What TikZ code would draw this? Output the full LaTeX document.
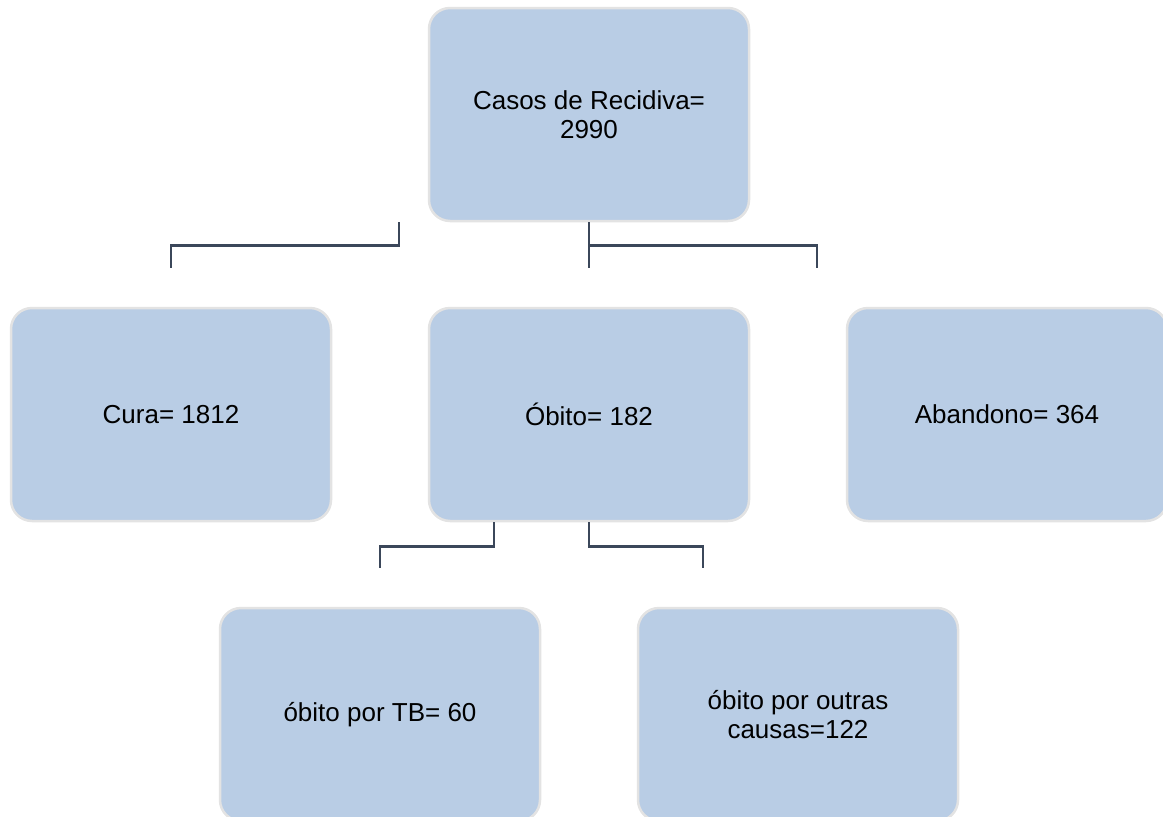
\documentclass[tikz,border=0pt]{standalone}
\usepackage{fontspec}
\setmainfont{Liberation Sans}
\definecolor{boxfill}{HTML}{B9CDE5}
\definecolor{boxline}{HTML}{E3E3E3}
\definecolor{connline}{HTML}{3B475A}
\begin{document}
\begin{tikzpicture}[x=1pt,y=-1pt,
  orgbox/.style={draw=boxline, line width=2.5pt, fill=boxfill, rounded corners=21pt,
    minimum width=320pt, minimum height=213pt, inner sep=0pt, align=center,
    font=\fontsize{26}{29}\selectfont},
  conn/.style={draw=connline, line width=2.6pt}]
\useasboundingbox (0,0) rectangle (1163,817);
\clip (0,0) rectangle (1163,817);
\node[orgbox] (top) at (589,114.5) {Casos de Recidiva=\\2990};
\node[orgbox] (cura) at (171,414.5) {Cura= 1812};
\node[orgbox] (obito) at (589,414.5) {Óbito= 182};
\node[orgbox] (aband) at (1007,414.5) {Abandono= 364};
\node[orgbox] (tb) at (380,714.5) {óbito por TB= 60};
\node[orgbox] (outras) at (798,714.5) {óbito por outras\\causas=122};
\coordinate (r1) at (817,268);
\coordinate (r2) at (703,568);
\draw[conn] ([xshift=-190pt]top.south) -- ++(0,-23pt) -| ([yshift=39pt]cura.north);
\draw[conn] (top.south) -- ([yshift=39pt]obito.north);
\draw[conn] ([yshift=-23pt]top.south) -| (r1);
\draw[conn] ([xshift=-95pt]obito.south) -- ++(0,-24pt) -| ([yshift=39pt]tb.north);
\draw[conn] (obito.south) -- ++(0,-24pt) -| (r2);
\end{tikzpicture}
\end{document}
